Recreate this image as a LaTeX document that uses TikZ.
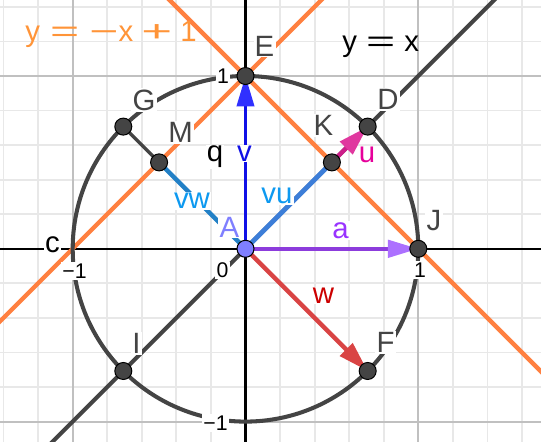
\documentclass[tikz,border=0pt]{standalone}
\usepackage{fontspec}
\setmainfont{Liberation Sans}
\usepackage{graphicx}
\usetikzlibrary{arrows.meta}
\definecolor{ggray}{HTML}{444444}
\definecolor{gridmin}{HTML}{E8E8E8}
\definecolor{gridmaj}{HTML}{C0C0C0}
\definecolor{orng}{HTML}{FF8040}
\definecolor{orngtxt}{HTML}{FF9438}
\definecolor{vblue}{HTML}{1010E6}
\definecolor{vbluehead}{HTML}{3030FF}
\definecolor{vucol}{HTML}{3D7ED8}
\definecolor{vwcol}{HTML}{2280C6}
\definecolor{vlbl}{HTML}{0D99F0}
\definecolor{acol}{HTML}{8C3CDC}
\definecolor{ahead}{HTML}{AC70FF}
\definecolor{albl}{HTML}{9933FF}
\definecolor{wcol}{HTML}{D94444}
\definecolor{wlbl}{HTML}{CC0000}
\definecolor{ucol}{HTML}{CC1F8A}
\definecolor{uhead}{HTML}{E0389F}
\definecolor{ulbl}{HTML}{E6009A}
\definecolor{Acol}{HTML}{7F7FFF}
\begin{document}
\begin{tikzpicture}[x=3cm,y=3cm,
  lbl/.style={fill=white,inner sep=0.6pt,text=ggray,font=\fontsize{14.5}{17}\selectfont},
  num/.style={fill=white,inner sep=0.6pt,text=black,font=\fontsize{10.5}{12}\selectfont},
  ptnode/.style={circle,fill=ggray,draw=black,line width=0.5pt,minimum size=8.4pt,inner sep=0pt},
  gminor/.style={draw=gridmin,line width=0.9pt},
  gmajor/.style={draw=gridmaj,line width=1pt},
  axisline/.style={draw=black,line width=1pt},
  orline/.style={draw=orng,line width=2.1pt},
  grline/.style={draw=ggray,line width=2pt},
  arrowtip/.style={-{Triangle[length=15pt,width=8.5pt,color=#1]}}
]
\useasboundingbox (-1.4207,-1.1123) rectangle (1.7101,1.4398);
\clip (-1.4207,-1.1123) rectangle (1.7101,1.4398);
% grid
\draw[gminor,step=0.2] (-1.6,-1.2) grid (1.8,1.6);
\draw[gmajor,step=1] (-1.6,-1.2) grid (1.8,1.6);
% axes
\coordinate (xl) at (-1.5,0); \coordinate (xr) at (1.8,0);
\coordinate (yb) at (0,-1.2); \coordinate (yt) at (0,1.5);
\draw[axisline] (xl) -- (xr);
\draw[axisline] (yb) -- (yt);
% coordinates of points
\coordinate (cA) at (0,0);
\coordinate (cE) at (0,1);
\coordinate (cJ) at (1,0);
\coordinate (cD) at (0.70711,0.70711);
\coordinate (cG) at (-0.70711,0.70711);
\coordinate (cI) at (-0.70711,-0.70711);
\coordinate (cF) at (0.70711,-0.70711);
\coordinate (cK) at (0.5,0.5);
\coordinate (cM) at (-0.5,0.5);
% lines
\coordinate (l1a) at (-1.6,-1.6); \coordinate (l1b) at (1.8,1.8);
\coordinate (l2a) at (-0.6,1.6); \coordinate (l2b) at (1.8,-0.8);
\coordinate (l3a) at (-1.6,-0.6); \coordinate (l3b) at (0.6,1.6);
\draw[grline] (l1a) -- (l1b);
\draw[orline] (l2a) -- (l2b);
\draw[orline] (l3a) -- (l3b);
% circle
\draw[grline] (cA) circle[radius=1];
% segment G-M
\draw[draw=ggray,line width=1.7pt] (cG) -- (cM);
% vectors / segments
\draw[draw=vwcol,line width=2.2pt] (cA) -- (cM);
\draw[draw=vucol,line width=2.4pt] (cA) -- (cK);
\draw[draw=vblue,line width=1.6pt,arrowtip=vbluehead] (cA) -- (cE);
\draw[draw=acol,line width=2pt,arrowtip=ahead] (cA) -- (cJ);
\draw[draw=wcol,line width=2.2pt,arrowtip=wcol] (cA) -- (cF);
\draw[draw=ucol,line width=2.2pt,arrowtip=uhead] (cK) -- (cD);
% points
\foreach \p in {E,J,D,G,I,F,K,M} {\node[ptnode] (\p) at (c\p) {};}
\node[ptnode,fill=Acol] (A) at (cA) {};
% labels
\node[lbl] (lE) at (0.1100,1.1736) {E};
\node[lbl] (lD) at (0.8247,0.8640) {D};
\node[lbl] (lK) at (0.4514,0.7135) {K};
\node[lbl,text=ulbl] (lu) at (0.7031,0.5428) {u};
\node[lbl] (lG) at (-0.5874,0.8611) {G};
\node[lbl] (lM) at (-0.3762,0.6730) {M};
\node[lbl,text=black,anchor=base] (lq) at (-0.1765,0.5041) {q};
\node[lbl,text=vblue] (lv) at (-0.0058,0.5515) {v};
\node[lbl,text=vlbl] (lvw) at (-0.3096,0.2766) {vw};
\node[lbl,text=vlbl] (lvu) at (0.1823,0.3056) {vu};
\node[lbl,text=Acol] (lA) at (-0.0926,0.1262) {A};
\node[lbl,text=albl] (la) at (0.5498,0.1059) {a};
\node[lbl] (lJ) at (1.0909,0.1609) {J};
\node[lbl,text=wlbl] (lw) at (0.4514,-0.2703) {w};
\node[lbl] (lF) at (0.8102,-0.5422) {F};
\node[lbl] (lI) at (-0.6308,-0.5480) {I};
\node[lbl,text=black] (lc) at (-1.1169,0.0220) {c};
\node[num] (n1x) at (1.0098,-0.1227) {1};
\node[num] (nm1x) at (-0.9896,-0.1285) {−1};
\node[num] (n0) at (-0.1331,-0.1256) {0};
\node[num] (nm1y) at (-0.1736,-1.0081) {−1};
\node[num] (n1y) at (-0.1302,1.0) {1};
% equations
\node[anchor=base west,inner sep=0pt,text=orngtxt,font=\fontsize{14.5}{17}\selectfont] (eq1) at (-1.276,1.2025)
  {y\hspace{5pt}\scalebox{1.7}[1]{=}\hspace{5pt}\scalebox{1.7}[1]{−}x\hspace{4pt}\scalebox{1.8}[1]{+}\hspace{4pt}1};
\node[anchor=base west,inner sep=0pt,text=black,font=\fontsize{14.5}{17}\selectfont] (eq2) at (0.5584,1.1389)
  {y\hspace{4.5pt}\scalebox{1.7}[1]{=}\hspace{4.5pt}x};
\end{tikzpicture}
\end{document}
